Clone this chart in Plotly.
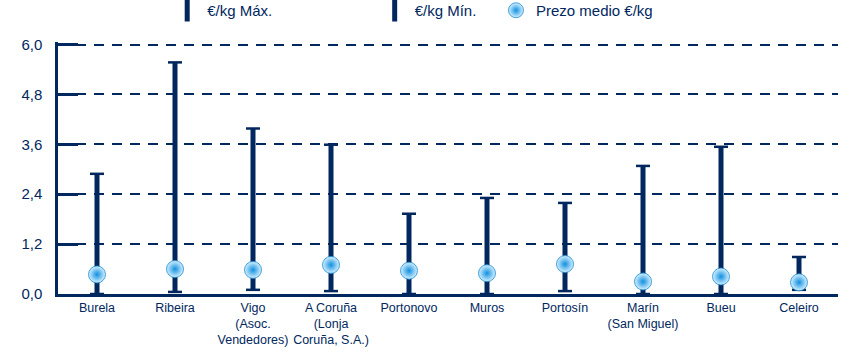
import plotly.graph_objects as go

categories = ["Burela", "Ribeira", "Vigo<br>(Asoc.<br>Vendedores)", "A Coruña<br>(Lonja<br>Coruña, S.A.)",
              "Portonovo", "Muros", "Portosín", "Marín<br>(San Miguel)", "Bueu", "Celeiro"]
price_max = [2.89, 5.57, 3.98, 3.59, 1.93, 2.31, 2.19, 3.08, 3.54, 0.89]
price_min = [0.00, 0.05, 0.10, 0.07, 0.00, 0.00, 0.07, 0.00, 0.00, 0.10]
price_avg = [0.47, 0.60, 0.58, 0.70, 0.56, 0.50, 0.72, 0.30, 0.42, 0.28]
y_ticks = [0, 1.2, 2.4, 3.6, 4.8, 6.0]

NAVY = "#00285e"
FONT = "Liberation Sans, Arial, sans-serif"
SPHERE = dict(color="#d6f1ff", gradient=dict(type="radial", color="#1190e0"),
              line=dict(width=0.8, color="#1a8ad2"))

fig = go.Figure()

# vertical range bars with top cap (max)
fig.add_trace(go.Scatter(
    x=categories, y=price_max, mode="markers", showlegend=False, cliponaxis=False,
    marker=dict(symbol="line-ew-open", size=10, color=NAVY, line=dict(width=2.5, color=NAVY)),
    error_y=dict(type="data", symmetric=False, array=[0] * len(price_max),
                 arrayminus=[mx - mn for mx, mn in zip(price_max, price_min)],
                 thickness=5, width=0, color=NAVY),
    hoverinfo="skip"))
# bottom caps (min)
fig.add_trace(go.Scatter(
    x=categories, y=price_min, mode="markers", showlegend=False, cliponaxis=False,
    marker=dict(symbol="line-ew-open", size=10, color=NAVY, line=dict(width=2.5, color=NAVY)),
    hoverinfo="skip"))
# average price spheres
fig.add_trace(go.Scatter(
    x=categories, y=price_avg, mode="markers", showlegend=False, cliponaxis=False,
    marker=dict(size=17, **SPHERE)))

# legend entries
fig.add_trace(go.Scatter(x=[None], y=[None], mode="markers", name="€/kg Máx.", legend="legend",
                         marker=dict(symbol="line-ns-open", size=18, color=NAVY,
                                     line=dict(width=5, color=NAVY))))
fig.add_trace(go.Scatter(x=[None], y=[None], mode="markers", name="€/kg Mín.", legend="legend2",
                         marker=dict(symbol="line-ns-open", size=18, color=NAVY,
                                     line=dict(width=5, color=NAVY))))
fig.add_trace(go.Scatter(x=[None], y=[None], mode="markers", name="Prezo medio €/kg", legend="legend3",
                         marker=dict(size=15, **SPHERE)))

leg_common = dict(y=1.125, yanchor="middle", xanchor="left", bgcolor="rgba(0,0,0,0)",
                  font=dict(family=FONT, size=15, color=NAVY), orientation="h")

fig.update_layout(
    width=857, height=355,
    margin=dict(l=58, r=19, t=42, b=61, autoexpand=False),
    paper_bgcolor="white", plot_bgcolor="white",
    separators=",.",
    font=dict(family=FONT, color=NAVY),
    legend=dict(x=0.14, **leg_common),
    legend2=dict(x=0.406, **leg_common),
    legend3=dict(x=0.5615, **leg_common),
    xaxis=dict(type="category", range=[-0.5, 9.5], showline=True, linewidth=2.5, linecolor=NAVY,
               showgrid=False, ticks="", tickfont=dict(family=FONT, size=12.5, color=NAVY)),
    yaxis=dict(range=[0, 6.06], tickvals=y_ticks, tickformat=".1f", showline=True, linewidth=2.5,
               linecolor=NAVY, ticks="inside", ticklen=20, tickwidth=2.5, tickcolor=NAVY,
               showgrid=True, gridcolor=NAVY, gridwidth=1.5, griddash="10px,8px", zeroline=False,
               ticklabelstandoff=10, tickfont=dict(family=FONT, size=15, color=NAVY)),
)

fig.write_html("out.html")
